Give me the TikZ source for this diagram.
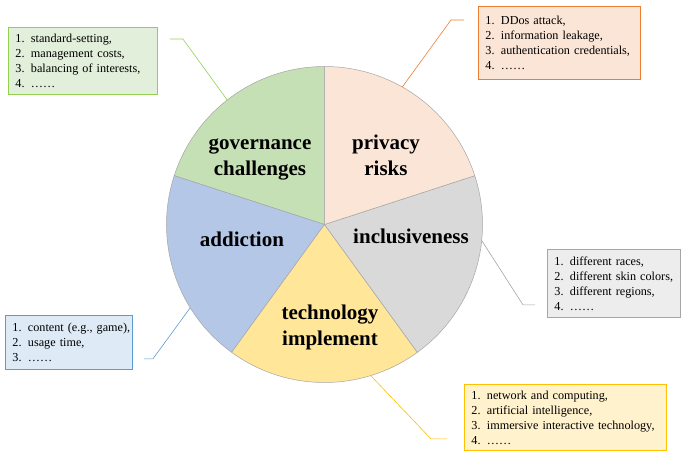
\documentclass[tikz,border=0pt]{standalone}
\usepackage{fontspec}
\setmainfont{Liberation Serif}
\usepackage{xcolor}
\usepackage{tikz}
\definecolor{govfill}{HTML}{C5E0B4}
\definecolor{govbox}{HTML}{E2EFDA}
\definecolor{govline}{HTML}{92D050}
\definecolor{privfill}{HTML}{FBE5D6}
\definecolor{privbox}{HTML}{FBE5D6}
\definecolor{privline}{HTML}{ED7D31}
\definecolor{addfill}{HTML}{B4C7E7}
\definecolor{addbox}{HTML}{DEEBF7}
\definecolor{addline}{HTML}{5B9BD5}
\definecolor{techfill}{HTML}{FFE699}
\definecolor{techbox}{HTML}{FFF2CC}
\definecolor{techline}{HTML}{FFC000}
\definecolor{inclfill}{HTML}{D9D9D9}
\definecolor{inclbox}{HTML}{EDEDED}
\definecolor{inclline}{HTML}{A5A5A5}
\usetikzlibrary{positioning, calc}
\newcommand{\listitem}[2]{\mbox{\makebox[15.5pt][l]{#1}#2}}

\begin{document}
\begin{tikzpicture}[
    x=1pt, y=1pt,
    slice/.style={draw=black!35, line width=0.5pt},
    topic/.style={font=\fontsize{21}{26}\selectfont\bfseries, align=center},
    listbox/.style={rectangle, draw=#1, line width=0.9pt, anchor=north west,
                  inner xsep=7pt, inner ysep=0pt, align=left,
                  font=\fontsize{12.2}{15}\selectfont},
    leader/.style={draw=#1, line width=0.6pt}
]
    \useasboundingbox (0,0) rectangle (681,451);
    \coordinate (ctr) at (324.5,226.5);

    % Pie
    \foreach \a/\c in {90/govfill, 162/addfill, 234/techfill, 306/inclfill, 18/privfill}
        \filldraw[slice, fill=\c] (ctr) -- ++(\a:158) arc[start angle=\a, end angle=\a+72, radius=158] -- cycle;

    % Topics
    \node[topic] (gov) at (260,292) {governance\\challenges};
    \node[topic] (priv) at (386,296) {privacy\\risks};
    \node[topic] (add) at (242,212) {addiction};
    \node[topic] (incl) at (411,215) {inclusiveness};
    \node[topic] (tech) at (330,124) {technology\\implement};

    % Lists
    \node[listbox=govline, fill=govbox, text width=135pt, minimum height=67pt] (gov-box) at (8,424)
        {\listitem{1.}{standard-setting,}\\\listitem{2.}{management costs,}\\
         \listitem{3.}{balancing of interests,}\\\listitem{4.}{……}};
    \node[listbox=privline, fill=privbox, text width=148pt, minimum height=73pt] (priv-box) at (478,445)
        {\listitem{1.}{DDos attack,}\\\listitem{2.}{information leakage,}\\
         \listitem{3.}{authentication credentials,}\\\listitem{4.}{……}};
    \node[listbox=inclline, fill=inclbox, text width=119pt, minimum height=68pt] (incl-box) at (547,202)
        {\listitem{1.}{different races,}\\\listitem{2.}{different skin colors,}\\
         \listitem{3.}{different regions,}\\\listitem{4.}{……}};
    \node[listbox=techline, fill=techbox, text width=188pt, minimum height=66pt] (tech-box) at (464,67)
        {\listitem{1.}{network and computing,}\\\listitem{2.}{artificial intelligence,}\\
         \listitem{3.}{immersive interactive technology,}\\\listitem{4.}{……}};
    \node[listbox=addline, fill=addbox, text width=113pt, minimum height=54pt] (add-box) at (5,136)
        {\listitem{1.}{content (e.g., game),}\\\listitem{2.}{usage time,}\\\listitem{3.}{……}};

    % Leader lines
    \coordinate (gov-out) at ($(gov-box.north east)+(12,-12)$);
    \coordinate (priv-out) at ($(priv-box.north west)+(-14,-14)$);
    \coordinate (incl-out) at ($(incl-box.south west)+(-12,13)$);
    \coordinate (tech-out) at ($(tech-box.south west)+(-17,12)$);
    \coordinate (add-out) at ($(add-box.south east)+(11,11)$);
    \coordinate (gov-in) at ($(ctr)+(128:158)$);
    \coordinate (priv-in) at ($(ctr)+(60.5:158)$);
    \coordinate (incl-in) at ($(ctr)+(-5.8:158)$);
    \coordinate (tech-in) at ($(ctr)+(-73:158)$);
    \coordinate (add-in) at ($(ctr)+(211.8:158)$);
    \draw[leader=govline] (gov-out) -- ++(13,0) -- (gov-in);
    \draw[leader=privline] (priv-out) -- ++(-13,0) -- (priv-in);
    \draw[leader=inclline] (incl-out) -- ++(-12,0) -- (incl-in);
    \draw[leader=techline] (tech-out) -- ++(-16,0) -- (tech-in);
    \draw[leader=addline] (add-out) -- ++(9,0) -- (add-in);
\end{tikzpicture}
\end{document}
